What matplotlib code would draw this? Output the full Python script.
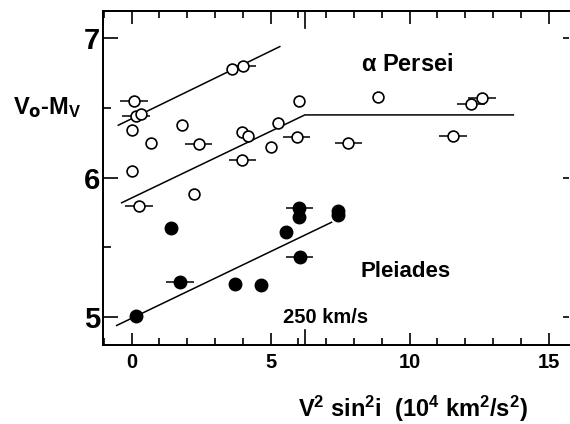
import numpy as np
import matplotlib.pyplot as plt

plt.rcParams['font.family'] = ['Liberation Sans', 'DejaVu Sans']
plt.rcParams['font.weight'] = 'bold'
plt.rcParams['mathtext.fontset'] = 'custom'
plt.rcParams['mathtext.rm'] = 'Liberation Sans:bold'
plt.rcParams['mathtext.it'] = 'Liberation Sans:bold'
plt.rcParams['mathtext.default'] = 'rm'

# alpha Persei (open circles)
aper_x = [3.62, 4.01, 0.09, 0.15, 0.33, 0.00, 0.69, 1.80, 2.41, 3.96, 4.19, 3.98,
          5.00, 5.27, 6.02, 5.93, 0.00, 2.24, 7.80, 8.85, 11.57, 12.20, 12.61, 0.27]
aper_y = [6.78, 6.80, 6.55, 6.44, 6.46, 6.34, 6.25, 6.38, 6.24, 6.33, 6.30, 6.13,
          6.22, 6.39, 6.55, 6.29, 6.05, 5.88, 6.25, 6.58, 6.30, 6.53, 6.57, 5.80]
aper_err = [0, 0.45, 0.5, 0.5, 0, 0, 0, 0, 0.48, 0, 0, 0.48,
            0, 0, 0, 0.49, 0, 0, 0.49, 0, 0.5, 0.5, 0.5, 0.5]

# Pleiades (filled circles)
plei_x = [1.41, 6.03, 6.01, 5.55, 7.41, 7.43, 6.05, 1.74, 3.73, 4.64, 0.14]
plei_y = [5.64, 5.78, 5.72, 5.61, 5.76, 5.73, 5.43, 5.25, 5.24, 5.23, 5.01]
plei_err = [0, 0.49, 0, 0, 0, 0, 0.49, 0.49, 0, 0, 0]

# fitted lines
upper_x = [-0.48, 5.33]
upper_y = [6.376, 6.94]
mid_x = [-0.36, 6.23, 13.73]
mid_y = [5.82, 6.45, 6.45]
plei_line_x = [-0.54, 7.19]
plei_line_y = [4.94, 5.68]

v250 = 6.25  # (250 km/s)^2 in 10^4 km^2/s^2

fig = plt.figure(figsize=(5.7, 4.24), dpi=100)
ax = fig.add_axes([0.1807, 0.1863, 0.8175, 0.7877])

lw = 1.1
ax.plot(upper_x, upper_y, color='black', lw=lw)
ax.plot(mid_x, mid_y, color='black', lw=lw)
ax.plot(plei_line_x, plei_line_y, color='black', lw=lw)

ax.errorbar(aper_x, aper_y, xerr=aper_err, fmt='o', ms=7.8, mfc='white', mec='black',
            mew=1.2, ecolor='black', elinewidth=1.1, capsize=0, zorder=3)
ax.errorbar(plei_x, plei_y, xerr=plei_err, fmt='o', ms=9, mfc='black', mec='black',
            ecolor='black', elinewidth=1.1, capsize=0, zorder=3)

ax.set_xlim(-1.03, 15.73)
ax.set_ylim(4.80, 7.195)

ax.set_xticks([0, 5, 10, 15])
ax.set_xticks(np.arange(-1, 16), minor=True)
ax.set_yticks([5, 6, 7])
ax.set_yticks([5.5, 6.5], minor=True)
ax.tick_params(axis='x', which='major', direction='in', top=True, length=9, width=1.2,
               labelsize=14.5, pad=6)
ax.tick_params(axis='x', which='minor', direction='in', top=True, length=5, width=1.2)
ax.tick_params(axis='y', which='major', direction='in', length=11, width=1.2,
               labelsize=21, pad=2)
ax.tick_params(axis='y', which='minor', direction='in', length=6, width=1.2)

ax2 = ax.twinx()
ax2.set_ylim(ax.get_ylim())
ax2.set_yticks([5, 6, 7])
ax2.tick_params(axis='y', direction='in', length=4, width=1.2, labelright=False)

# longer tick marking 250 km/s
tr = ax.get_xaxis_transform()
ax.plot([v250, v250], [0, 0.045], color='black', lw=1.2, transform=tr, clip_on=False)
ax.plot([v250, v250], [1, 0.95], color='black', lw=1.2, transform=tr, clip_on=False)

for a in (ax, ax2):
    for s in a.spines.values():
        s.set_linewidth(1.3)
ax.spines['right'].set_visible(False)
ax2.spines['right'].set_visible(False)

ax.text(9.9, 6.81, r'$\alpha$ Persei', fontsize=17, ha='center', va='center')
ax.text(9.87, 5.33, 'Pleiades', fontsize=16, ha='center', va='center')
ax.text(5.44, 5.0, '250 km/s', fontsize=14.5, ha='left', va='center')

ax.text(-0.12, 0.71, r'V$_{\mathsf{o}}$-M$_V$', transform=ax.transAxes, fontsize=17,
        ha='center', va='center')
ax.text(0.665, -0.19, r'V$^2$ sin$^2$i  (10$^4$ km$^2$/s$^2$)', transform=ax.transAxes,
        fontsize=17, ha='center', va='center')

plt.savefig('out.png', dpi=100)
